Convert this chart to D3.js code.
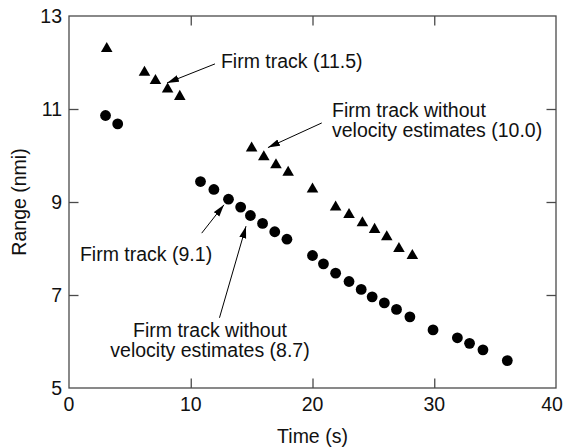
<!DOCTYPE html>
<html>
<head>
<meta charset="utf-8">
<script src="https://cdn.jsdelivr.net/npm/d3@7"></script>
<style>
  body { margin: 0; background: #fff; }
  text { font-family: "Liberation Sans", Arial, Helvetica, sans-serif; fill: #111; }
</style>
</head>
<body>
<div id="chart"></div>
<script>
// datos
var circT = [3, 4, 10.8, 11.9, 13.1, 14.1, 14.9, 15.9, 16.9, 17.9, 20, 20.9, 21.9, 23, 24, 24.9, 25.9, 26.9, 28, 29.9, 31.9, 32.9, 34, 36];
var circR = [10.86, 10.68, 9.44, 9.27, 9.06, 8.89, 8.71, 8.54, 8.36, 8.2, 7.85, 7.67, 7.47, 7.29, 7.12, 6.96, 6.83, 6.69, 6.53, 6.25, 6.08, 5.96, 5.82, 5.59];

var triT = [3.1, 6.2, 7.1, 8.1, 9.1, 15, 16, 17, 18, 20, 21.9, 23, 24.1, 25.1, 26.1, 27.1, 28.2];
var triR = [12.33, 11.82, 11.64, 11.46, 11.3, 10.19, 10.0, 9.83, 9.67, 9.31, 8.92, 8.76, 8.58, 8.44, 8.28, 8.03, 7.88];

var xTicks = [0, 10, 20, 30, 40];
var yTicks = [5, 7, 9, 11, 13];

// anotaciones (en unidades de datos)
var notas = [
  { lines: ["Firm track (11.5)"], x: 12.48, y: 11.88, anchor: "start", from: [11.99, 11.97], to: [8.05, 11.56] },
  { lines: ["Firm track without", "velocity estimates (10.0)"], x: 21.6, y: 10.83, anchor: "start", from: [20.76, 10.70], to: [16.34, 10.17] },
  { lines: ["Firm track (9.1)"], x: 0.9, y: 7.73, anchor: "start", from: [10.9, 8.33], to: [12.73, 8.94] },
  { lines: ["Firm track without", "velocity estimates (8.7)"], x: 11.58, y: 6.10, anchor: "middle", from: [12.36, 6.51], to: [14.54, 8.48] }
];

var width = 564;
var height = 447;
var mLeft = 69, mRight = 556, mTop = 16, mBottom = 388;
var tickLen = 9.5;
var fontSize = "19.5px";
var axisColor = "#4a4a4a";

var x = d3.scaleLinear().domain([0, 40]).range([mLeft, mRight]);
var y = d3.scaleLinear().domain([5, 13]).range([mBottom, mTop]);

var svg = d3.select("#chart").append("svg")
  .attr("width", width)
  .attr("height", height);

svg.append("defs").append("marker")
  .attr("id", "flecha")
  .attr("markerUnits", "userSpaceOnUse")
  .attr("markerWidth", 13)
  .attr("markerHeight", 8)
  .attr("refX", 12)
  .attr("refY", 3.5)
  .attr("orient", "auto")
  .append("path")
  .attr("d", "M0,0 L12,3.5 L0,7 Z")
  .attr("fill", "#000");

/* Marco */
svg.append("rect")
  .attr("x", mLeft).attr("y", mTop)
  .attr("width", mRight - mLeft).attr("height", mBottom - mTop)
  .attr("fill", "none")
  .attr("stroke", axisColor)
  .attr("stroke-width", 1.3);

/* Ejes con ticks hacia dentro */
var innerX = xTicks.slice(1, -1);
var innerY = yTicks.slice(1, -1);

function limpiar(g) {
  g.select(".domain").remove();
  g.selectAll("line").attr("stroke", axisColor).attr("stroke-width", 1.3);
}

svg.append("g")
  .attr("transform", `translate(0, ${mBottom})`)
  .call(d3.axisBottom(x).tickValues(innerX).tickSizeInner(-tickLen).tickSizeOuter(0).tickFormat(""))
  .call(limpiar);

svg.append("g")
  .attr("transform", `translate(0, ${mTop})`)
  .call(d3.axisTop(x).tickValues(innerX).tickSizeInner(-tickLen).tickSizeOuter(0).tickFormat(""))
  .call(limpiar);

svg.append("g")
  .attr("transform", `translate(${mLeft}, 0)`)
  .call(d3.axisLeft(y).tickValues(innerY).tickSizeInner(-tickLen).tickSizeOuter(0).tickFormat(""))
  .call(limpiar);

svg.append("g")
  .attr("transform", `translate(${mRight}, 0)`)
  .call(d3.axisRight(y).tickValues(innerY).tickSizeInner(-tickLen).tickSizeOuter(0).tickFormat(""))
  .call(limpiar);

/* Etiquetas de ticks (la ultima se recorta al borde) */
svg.append("g").selectAll("text")
  .data(xTicks).enter()
  .append("text")
  .attr("x", d => Math.min(x(d), width - 12))
  .attr("y", mBottom + 23)
  .attr("text-anchor", "middle")
  .style("font-size", fontSize)
  .text(d => d);

svg.append("g").selectAll("text")
  .data(yTicks).enter()
  .append("text")
  .attr("x", mLeft - 7)
  .attr("y", d => y(d))
  .attr("dy", "0.36em")
  .attr("text-anchor", "end")
  .style("font-size", fontSize)
  .text(d => d);

/* Titulos de ejes */
svg.append("text")
  .attr("x", (mLeft + mRight) / 2)
  .attr("y", 443)
  .attr("text-anchor", "middle")
  .style("font-size", fontSize)
  .text("Time (s)");

svg.append("text")
  .attr("transform", `translate(26, ${(mTop + mBottom) / 2}) rotate(-90)`)
  .attr("text-anchor", "middle")
  .style("font-size", fontSize)
  .text("Range (nmi)");

/* Puntos */
var circulos = circT.map((t, i) => ({ t: t, r: circR[i] }));
var triangulos = triT.map((t, i) => ({ t: t, r: triR[i] }));

svg.append("g").selectAll("circle")
  .data(circulos).enter()
  .append("circle")
  .attr("cx", d => x(d.t))
  .attr("cy", d => y(d.r))
  .attr("r", 5.4)
  .attr("fill", "#000");

var tri = d3.symbol().type(d3.symbolTriangle).size(58);
svg.append("g").selectAll("path")
  .data(triangulos).enter()
  .append("path")
  .attr("d", tri)
  .attr("transform", d => `translate(${x(d.t)}, ${y(d.r) + 1.5})`)
  .attr("fill", "#000");

/* Anotaciones */
var ann = svg.append("g");
notas.forEach(function (n) {
  ann.append("line")
    .attr("x1", x(n.from[0])).attr("y1", y(n.from[1]))
    .attr("x2", x(n.to[0])).attr("y2", y(n.to[1]))
    .attr("stroke", "#000")
    .attr("stroke-width", 1)
    .attr("marker-end", "url(#flecha)");
  var t = ann.append("text")
    .attr("text-anchor", n.anchor)
    .style("font-size", fontSize);
  n.lines.forEach(function (l, i) {
    t.append("tspan")
      .attr("x", x(n.x))
      .attr("y", y(n.y) + i * 20)
      .text(l);
  });
});
</script>
</body>
</html>
